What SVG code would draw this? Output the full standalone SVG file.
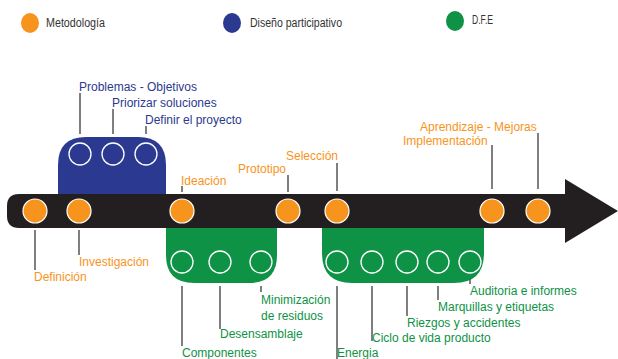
<svg xmlns="http://www.w3.org/2000/svg" width="618" height="359" viewBox="0 0 618 359">
<style>
text{font-family:"Liberation Sans","Open Sans",sans-serif;font-size:12px}
.or{fill:#F7941D}
.bl{fill:#2B3990}
.gr{fill:#0E9245}
.lg{fill:#333;font-size:12px}
.dot{fill:#F7941D;stroke:#fff;stroke-width:1.2}
.ring{fill:none;stroke:#fff;stroke-width:1.3}
.ln{stroke:#555;stroke-width:1.5;fill:none}
</style>
<rect width="618" height="359" fill="#fff"/>
<g id="legend">
<ellipse cx="30" cy="23" rx="9" ry="10" fill="#F7941D"/>
<text class="lg" x="46" y="27" textLength="59" lengthAdjust="spacingAndGlyphs">Metodología</text>
<ellipse cx="232" cy="23" rx="9" ry="10" fill="#2B3990"/>
<text class="lg" x="250" y="27" textLength="92" lengthAdjust="spacingAndGlyphs">Diseño participativo</text>
<ellipse cx="455" cy="21" rx="9" ry="10" fill="#0E9245"/>
<text class="lg" x="472" y="24" textLength="21" lengthAdjust="spacingAndGlyphs">D.F.E</text>
</g>
<g id="blue-box">
<path d="M58,194 V165 Q58,137 86,137 H138 Q166,137 166,165 V194 Z" fill="#2B3990"/>
<circle class="ring" cx="80" cy="154" r="11"/>
<circle class="ring" cx="113" cy="154" r="11"/>
<circle class="ring" cx="146" cy="154" r="11"/>
</g>
<g id="green-box-1">
<path d="M166,227 V255 Q166,283 194,283 H249 Q277,283 277,255 V227 Z" fill="#0E9245"/>
<circle class="ring" cx="182" cy="262" r="11"/>
<circle class="ring" cx="220" cy="262" r="11"/>
<circle class="ring" cx="261" cy="262" r="11"/>
</g>
<g id="green-box-2">
<path d="M322,227 V253 Q322,283 352,283 H454 Q484,283 484,253 V227 Z" fill="#0E9245"/>
<circle class="ring" cx="337" cy="262" r="11"/>
<circle class="ring" cx="372" cy="262" r="11"/>
<circle class="ring" cx="407" cy="262" r="11"/>
<circle class="ring" cx="438" cy="262" r="11"/>
<circle class="ring" cx="470" cy="262" r="11"/>
</g>
<g id="arrow">
<path d="M19,194 H565 V179 L618,211 L565,243 V228 H19 Q7,228 7,216 V206 Q7,194 19,194 Z" fill="#231F20"/>
</g>
<g id="steps">
<circle class="dot" cx="35" cy="211" r="12"/>
<circle class="dot" cx="79" cy="211" r="12"/>
<circle class="dot" cx="182" cy="211" r="12"/>
<circle class="dot" cx="288" cy="211" r="12"/>
<circle class="dot" cx="337" cy="211" r="12"/>
<circle class="dot" cx="492" cy="211" r="12"/>
<circle class="dot" cx="538" cy="211" r="12"/>
</g>
<g id="connectors">
<path class="ln" d="M80,93 V134 M113,109 V134 M146,126 V134"/>
<path class="ln" d="M182,186 V192 M288,175 V192 M337,163 V191 M492,145 V189 M538,133 V189"/>
<path class="ln" d="M35,230 V270 M79,230 V255"/>
<path class="ln" d="M182,286 V346 M220,286 V329 M261,286 V292"/>
<path class="ln" d="M337,286 V359 M372,286 V341 M407,286 V316 M438,286 V300 M470,279 V284"/>
</g>
<g id="labels-blue">
<text class="bl" x="79" y="91">Problemas - Objetivos</text>
<text class="bl" x="112" y="107">Priorizar soluciones</text>
<text class="bl" x="145" y="124">Definir el proyecto</text>
</g>
<g id="labels-orange">
<text class="or" x="181" y="185">Ideación</text>
<text class="or" x="238" y="173">Prototipo</text>
<text class="or" x="286" y="160">Selección</text>
<text class="or" x="403" y="145">Implementación</text>
<text class="or" x="420" y="131">Aprendizaje - Mejoras</text>
<text class="or" x="79" y="266">Investigación</text>
<text class="or" x="34" y="281">Definición</text>
</g>
<g id="labels-green">
<text class="gr" x="261" y="304">Minimización</text>
<text class="gr" x="261" y="320">de residuos</text>
<text class="gr" x="220" y="338">Desensamblaje</text>
<text class="gr" x="182" y="357">Componentes</text>
<text class="gr" x="337" y="357">Energia</text>
<text class="gr" x="372" y="342">Ciclo de vida producto</text>
<text class="gr" x="407" y="327">Riezgos y accidentes</text>
<text class="gr" x="438" y="311">Marquillas y etiquetas</text>
<text class="gr" x="470" y="295">Auditoria e informes</text>
</g>
</svg>
